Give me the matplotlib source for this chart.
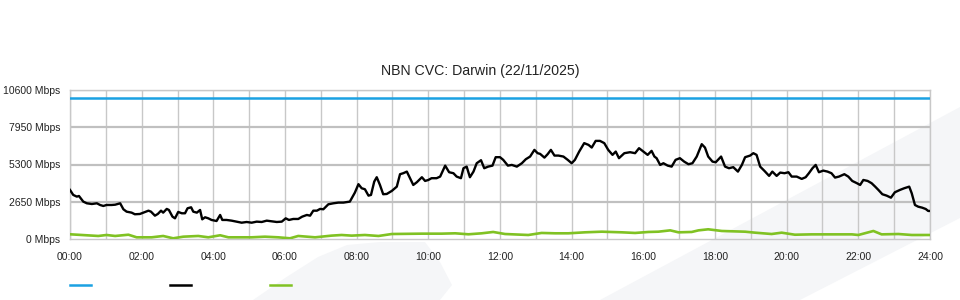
import matplotlib
matplotlib.use("Agg")
import matplotlib.pyplot as plt
from matplotlib.patches import Polygon
from matplotlib.lines import Line2D

plt.rcParams['font.family'] = ['Liberation Sans', 'DejaVu Sans']

title = "NBN CVC: Darwin (22/11/2025)"
capacity_mbps = 10000
ytick_values = [0, 2650, 5300, 7950, 10600]
ytick_labels = ["0 Mbps", "2650 Mbps", "5300 Mbps", "7950 Mbps", "10600 Mbps"]
xtick_hours = list(range(0, 25, 2))
xtick_labels = ["%02d:00" % h for h in xtick_hours]

# total traffic (hours, Mbps)
traffic_hours = [
    0.00, 0.09, 0.19, 0.25, 0.37, 0.47, 0.61, 0.75, 0.84, 0.93, 1.02, 1.16, 1.26, 1.40,
    1.49, 1.58, 1.72, 1.81, 1.95, 2.05, 2.19, 2.26, 2.37, 2.45, 2.54, 2.60, 2.70, 2.76,
    2.86, 2.93, 3.02, 3.12, 3.21, 3.28, 3.38, 3.44, 3.54, 3.63, 3.69, 3.77, 3.86, 3.95,
    4.09, 4.19, 4.25, 4.37, 4.51, 4.65, 4.79, 4.93, 5.07, 5.21, 5.35, 5.49, 5.63, 5.77,
    5.91, 6.02, 6.11, 6.23, 6.37, 6.48, 6.61, 6.70, 6.79, 6.89, 6.98, 7.07, 7.21, 7.35,
    7.49, 7.63, 7.81, 7.95, 8.05, 8.14, 8.23, 8.33, 8.40, 8.49, 8.56, 8.65, 8.74, 8.84,
    8.98, 9.12, 9.21, 9.30, 9.40, 9.49, 9.58, 9.68, 9.82, 9.91, 10.00, 10.09, 10.23,
    10.33, 10.47, 10.58, 10.70, 10.79, 10.91, 10.98, 11.07, 11.16, 11.26, 11.35, 11.47,
    11.56, 11.67, 11.79, 11.88, 12.00, 12.09, 12.22, 12.33, 12.47, 12.61, 12.72, 12.84,
    12.96, 13.05, 13.12, 13.24, 13.33, 13.42, 13.52, 13.63, 13.77, 13.89, 14.00, 14.09,
    14.21, 14.35, 14.47, 14.56, 14.67, 14.79, 14.91, 15.02, 15.14, 15.23, 15.32, 15.47,
    15.63, 15.77, 15.88, 16.00, 16.12, 16.23, 16.31, 16.37, 16.47, 16.56, 16.68, 16.79,
    16.90, 17.02, 17.14, 17.26, 17.37, 17.49, 17.63, 17.72, 17.81, 17.93, 18.02, 18.17,
    18.28, 18.39, 18.51, 18.64, 18.75, 18.84, 18.98, 19.07, 19.16, 19.26, 19.38, 19.51,
    19.60, 19.72, 19.82, 19.94, 20.05, 20.14, 20.28, 20.42, 20.53, 20.62, 20.72, 20.81,
    20.90, 21.02, 21.14, 21.25, 21.35, 21.46, 21.61, 21.72, 21.83, 21.96, 22.05, 22.14,
    22.26, 22.37, 22.47, 22.56, 22.67, 22.79, 22.91, 23.02, 23.16, 23.28, 23.42, 23.49,
    23.58, 23.67, 23.78, 23.88, 23.95, 24.00]
traffic_mbps = [
    3490, 3135, 3015, 3060, 2660, 2540, 2490, 2540, 2420, 2350, 2420, 2420, 2440, 2540,
    2115, 1945, 1875, 1760, 1780, 1875, 2015, 1945, 1660, 1780, 2015, 1875, 2140, 2065,
    1590, 1470, 1925, 1830, 1830, 2185, 2255, 1945, 1875, 2065, 1400, 1545, 1470, 1355,
    1280, 1710, 1355, 1355, 1305, 1235, 1160, 1210, 1160, 1235, 1210, 1305, 1260, 1210,
    1235, 1470, 1355, 1425, 1425, 1590, 1710, 1660, 2015, 2015, 2140, 2115, 2470, 2540,
    2590, 2590, 2660, 3300, 3900, 3610, 3540, 3085, 3135, 4080, 4395, 3845, 3185, 3205,
    3420, 3725, 4610, 4680, 4795, 4325, 3845, 4040, 4395, 4130, 4200, 4325, 4325,
    4440, 5220, 4750, 4680, 4440, 4325, 5035, 5150, 4395, 4795, 5390, 5605,
    5035, 5150, 5220, 5820, 5820, 5630, 5220, 5270, 5150, 5390, 5675, 5865,
    6340, 6105, 6055, 5790, 6035, 6340, 5935, 5935, 5865, 5630, 5390, 5630,
    6220, 6820, 6695, 6505, 6980, 6980, 6820, 6340, 5985, 6220, 5750, 6105,
    6175, 6105, 6460, 6220, 5985, 6270, 5865, 5750, 5270, 5390, 5220, 5150,
    5630, 5750, 5505, 5320, 5390, 5865, 6745, 6505, 5865, 5505, 5460, 5865,
    5150, 5035, 5110, 4795, 5270, 5820, 5935, 6105, 5985, 5150, 4845, 4490,
    4795, 4490, 4725, 4680, 4750, 4440, 4440, 4275, 4395, 4680, 5035, 5270,
    4750, 4865, 4795, 4680, 4370, 4440, 4610, 4440, 4130, 3970, 3845, 4200,
    4130, 3970, 3725, 3490, 3185, 3085, 2940, 3325, 3490, 3610, 3725, 3255,
    2420, 2300, 2230, 2135, 1995, 1995]

# second (green) series (hours, Mbps)
green_hours = [
    0.00, 0.33, 0.79, 1.02, 1.26, 1.63, 1.86, 2.28, 2.60, 2.88, 3.16, 3.58, 3.86, 4.19,
    4.42, 5.07, 5.44, 5.81, 6.14, 6.37, 6.84, 7.30, 7.58, 7.86, 8.23, 8.61, 8.98, 9.82,
    10.37, 10.75, 11.12, 11.49, 11.81, 12.14, 12.79, 13.16, 13.54, 13.91, 14.37, 14.84,
    15.40, 15.77, 16.14, 16.42, 16.75, 16.98, 17.35, 17.54, 17.81, 18.19, 18.84, 19.12,
    19.58, 19.86, 20.23, 20.70, 21.26, 21.82, 22.00, 22.42, 22.65, 23.12, 23.49, 24.00]
green_mbps = [
    335, 285, 215, 285, 215, 305, 120, 120, 215, 50, 165, 215, 120, 265,
    120, 120, 165, 120, 50, 215, 120, 240, 285, 240, 285, 215, 355, 380,
    380, 405, 335, 405, 500, 355, 285, 430, 405, 405, 475, 520,
    475, 430, 500, 520, 615, 475, 500, 615, 690, 570, 520, 450,
    355, 450, 305, 330, 330, 330, 285, 570, 330, 355, 285, 285]

fig = plt.figure(figsize=(9.6, 3.0), dpi=100)

# light watermark shapes (figure pixel coords, y from top)
wm_a = [(253, 300), (285, 278), (318, 257), (347, 245), (380, 242), (425, 242),
        (440, 262), (452, 285), (440, 300)]
wm_b = [(600, 300), (960, 107), (960, 218), (800, 300)]
for shape in (wm_a, wm_b):
    pts = [(x / 960, 1 - y / 300) for x, y in shape]
    fig.patches.append(Polygon(pts, closed=True, transform=fig.transFigure,
                               facecolor='#f5f6f8', edgecolor='none', zorder=-5))

ax = fig.add_axes([70 / 960, 1 - 239 / 300, 860 / 960, 149 / 300])
ax.set_zorder(2)
ax.set_facecolor('none')
ax.set_xlim(0, 24)
ax.set_ylim(0, 10600)

ax.set_xticks(xtick_hours)
ax.set_xticklabels(xtick_labels, fontsize=7.5)
ax.set_yticks(ytick_values)
ax.set_yticklabels(ytick_labels, fontsize=7.5)
ax.tick_params(axis='both', which='both', length=0, colors='#222222')
ax.tick_params(axis='y', pad=7)
ax.tick_params(axis='x', pad=9)

for h in range(0, 25):
    ax.axvline(h, color='#c8c8c8', lw=1.0, zorder=1)
for v in ytick_values[1:-1]:
    ax.axhline(v, color='#c0c0c0', lw=1.6, zorder=1)
ax.axhline(10600, color='#cccccc', lw=1.0, zorder=1)
for s in ax.spines.values():
    s.set_color('#c8c8c8')
    s.set_linewidth(1.0)

ax.plot([0, 24], [capacity_mbps, capacity_mbps], color='#1ba1e2', lw=1.8, zorder=3)
ax.plot(traffic_hours, traffic_mbps, color='#000000', lw=1.7, zorder=4)
ax.plot(green_hours, green_mbps, color='#80c223', lw=1.9, zorder=3)

fig.text(0.5, 1 - 71 / 300, title, fontsize=10.2, color='#222222',
         ha='center', va='center')

# legend swatches (no visible labels)
for x0, col in ((70, '#1ba1e2'), (170, '#000000'), (270, '#80c223')):
    fig.add_artist(Line2D([x0 / 960, (x0 + 21) / 960], [1 - 285 / 300, 1 - 285 / 300],
                          transform=fig.transFigure, color=col, lw=1.8))

fig.savefig("out.png", dpi=100)
